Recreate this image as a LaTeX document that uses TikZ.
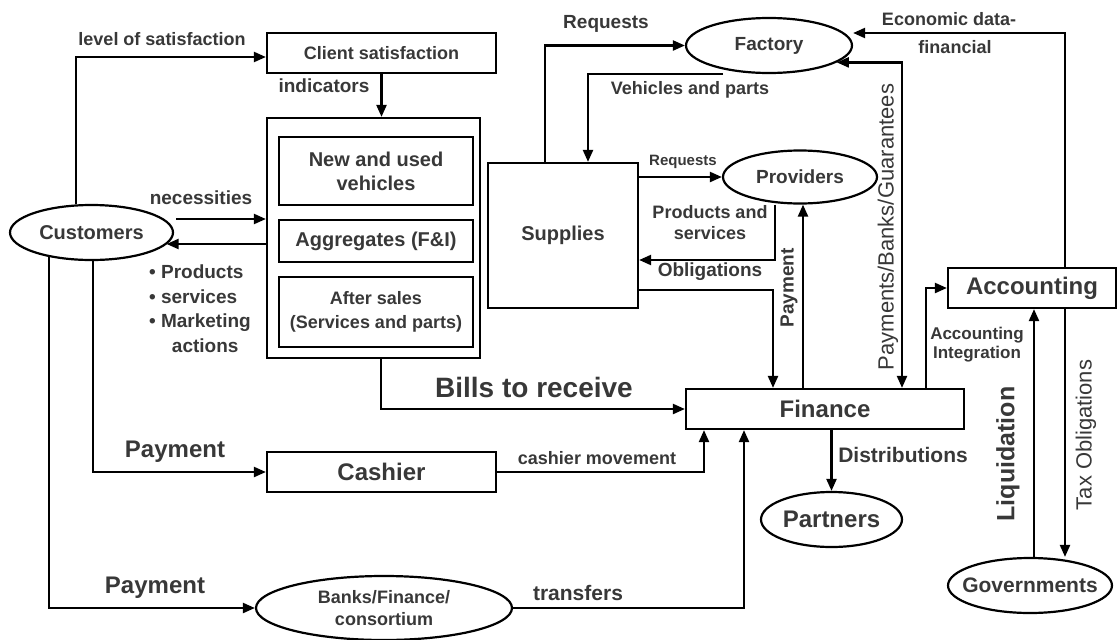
\documentclass[tikz,border=0pt]{standalone}
\usepackage{fontspec}
\setmainfont{Liberation Sans}
\usetikzlibrary{shapes.geometric,arrows.meta}
\definecolor{txt}{gray}{0.22}
\newcommand{\fsz}[2]{\fontsize{#1}{#2}\selectfont}

\begin{document}
\begin{tikzpicture}[x=1pt,y=-1pt,line width=2.2pt,
  box/.style={draw,rectangle,inner sep=0pt,align=center,text=txt},
  oval/.style={draw,ellipse,inner sep=0pt,align=center,text=txt,fill=white},
  flow/.style={-{Triangle[length=12pt,width=10pt]}},
  lbl/.style={inner sep=0pt,text=txt}]
  \useasboundingbox (0,0) rectangle (1117,640);
  \node[box,minimum width=229,minimum height=40,font=\bfseries\fsz{18}{21}] (satisf) at (381.5,53) {Client satisfaction};
  \node[box,minimum width=213,minimum height=240] (sales) at (373.5,238) {};
  \node[box,minimum width=194,minimum height=68,font=\bfseries\fsz{20}{24}] (newveh) at (376,171) {New and used\\vehicles};
  \node[box,minimum width=194,minimum height=42,font=\bfseries\fsz{20}{24}] (aggreg) at (376,241) {Aggregates (F\&I)};
  \node[box,minimum width=194,minimum height=70,font=\bfseries\fsz{18}{24}] (after) at (376,312) {After sales\\(Services and parts)};
  \node[oval,minimum width=163,minimum height=55,font=\bfseries\fsz{20}{24}] (cust) at (91.5,232.5) {Customers};
  \node[box,minimum width=229,minimum height=40,font=\bfseries\fsz{24}{28}] (cashier) at (381.5,472) {Cashier};
  \node[oval,minimum width=256,minimum height=64,font=\bfseries\fsz{18}{22}] (banks) at (384,608) {Banks/Finance/\\consortium};
  \node[box,minimum width=150,minimum height=145,font=\bfseries\fsz{20}{22}] (supplies) at (563,235.5) {Supplies};
  \node[oval,minimum width=166,minimum height=55,font=\bfseries\fsz{19}{22}] (factory) at (769,45.5) {Factory};
  \node[oval,minimum width=154,minimum height=53,font=\bfseries\fsz{19}{22}] (providers) at (800,177) {Providers};
  \node[box,minimum width=278,minimum height=40,font=\bfseries\fsz{24}{28}] (finance) at (825,409) {Finance};
  \node[box,minimum width=168,minimum height=40,font=\bfseries\fsz{24}{28}] (accounting) at (1032,288) {Accounting};
  \node[oval,minimum width=141,minimum height=55,font=\bfseries\fsz{24}{28}] (partners) at (831.5,519.5) {\makebox[0pt]{Partners}};
  \node[oval,minimum width=164,minimum height=55,font=\bfseries\fsz{21}{24}] (govern) at (1030,585.5) {\makebox[0pt]{Governments}};

  % customers side
  \draw[flow] ([xshift=-15.5]cust.north) |- ([yshift=-4]satisf.west);
  \draw[flow] (satisf.south) -- (satisf.south |- sales.north);
  \draw[flow] ([yshift=19,xshift=2]sales.west -| cust.east) -- ([yshift=19]sales.west);
  \draw[flow] ([yshift=-6]sales.west) -- ([yshift=-6]sales.west -| cust.-9);
  \draw[flow] ([xshift=1.5]cust.south) |- (cashier.west);
  \draw[flow] (cust.-150) |- (banks.west);
  % into finance
  \draw[flow] ([xshift=7.5]sales.south) |- (finance.west);
  \draw[flow] (cashier.east) -| ([xshift=-121]finance.south);
  \draw[flow] (banks.east) -| ([xshift=-81]finance.south);
  % supplies, factory, providers
  \draw[flow] ([xshift=-18]supplies.north) |- (factory.west);
  \draw[flow] ([xshift=-46]factory.south) -| ([xshift=25]supplies.north);
  \draw[flow] ([yshift=58.5]supplies.east) -- (providers.west);
  \draw[flow] ([xshift=-25]providers.south) |- ([yshift=-24.5]supplies.east);
  \draw[flow] ([yshift=-54.5]supplies.east) -| ([xshift=-52]finance.north);
  \draw[flow] ([xshift=-22]finance.north) -- ([xshift=-22]finance.north |- providers.south);
  \draw[{Triangle[length=12pt,width=10pt]}-{Triangle[length=12pt,width=10pt]}] (factory.-14) -| ([xshift=77]finance.north);
  % accounting, governments, partners
  \draw[flow] ([xshift=33]accounting.north) |- ([yshift=12.5]factory.east);
  \draw[flow] ([xshift=101]finance.north) |- (accounting.west);
  \draw[flow] ([xshift=4]govern.north) -- ([xshift=4]govern.north |- accounting.south);
  \draw[flow] ([xshift=33]accounting.south) -- ([xshift=35]govern.north);
  \draw[flow] (partners.north |- finance.south) -- (partners.north);

  % labels
  \node[lbl,font=\bfseries\fsz{18}{21}] (lsat) at (162,39) {level of satisfaction};
  \node[lbl,font=\bfseries\fsz{19}{22}] (indic) at (324,86) {indicators};
  \node[lbl,font=\bfseries\fsz{19}{22}] (neces) at (201,198) {necessities};
  \node[lbl,font=\bfseries\fsz{19}{24.5},align=left] (offer) at (200,308.5) {\textbullet\ Products\\\textbullet\ services\\\textbullet\ Marketing\\\hspace*{1.2em}actions};
  \node[lbl,font=\bfseries\fsz{24}{28}] (pay1) at (175,452) {Payment};
  \node[lbl,font=\bfseries\fsz{24}{28}] (pay2) at (155,588) {Payment};
  \node[lbl,font=\bfseries\fsz{18}{21}] (cashmov) at (597,458) {cashier movement};
  \node[lbl,font=\bfseries\fsz{21}{24}] (transf) at (578,593) {transfers};
  \node[lbl,font=\bfseries\fsz{28}{32}] (bills) at (534,387) {Bills to receive};
  \node[lbl,font=\bfseries\fsz{19}{22}] (req1) at (606,24) {Requests};
  \node[lbl,font=\bfseries\fsz{18}{21}] (vehparts) at (690,90) {Vehicles and parts};
  \node[lbl,font=\bfseries\fsz{15}{18}] (req2) at (683,162) {Requests};
  \node[lbl,font=\bfseries\fsz{18}{21},align=center] (prodserv) at (710,223) {Products and\\services};
  \node[lbl,font=\bfseries\fsz{19}{22}] (oblig) at (710,272) {Obligations};
  \node[lbl,font=\bfseries\fsz{19}{22},rotate=90] (paym) at (789,288) {Payment};
  \node[lbl,font=\fsz{22}{26},rotate=90] (pbg) at (888,227) {Payments/Banks/Guarantees};
  \node[lbl,font=\bfseries\fsz{18}{21}] (econ) at (949,19) {Economic data-};
  \node[lbl,font=\bfseries\fsz{18}{21}] (finan) at (955,47) {financial};
  \node[lbl,font=\bfseries\fsz{17}{19},align=center] (accint) at (977,344.5) {Accounting\\Integration};
  \node[lbl,font=\bfseries\fsz{25}{28},rotate=90] (liq) at (1008,454) {Liquidation};
  \node[lbl,font=\fsz{22}{26},rotate=90] (tax) at (1086,435) {Tax Obligations};
  \node[lbl,font=\bfseries\fsz{21}{24}] (distr) at (903,455) {Distributions};
\end{tikzpicture}
\end{document}
